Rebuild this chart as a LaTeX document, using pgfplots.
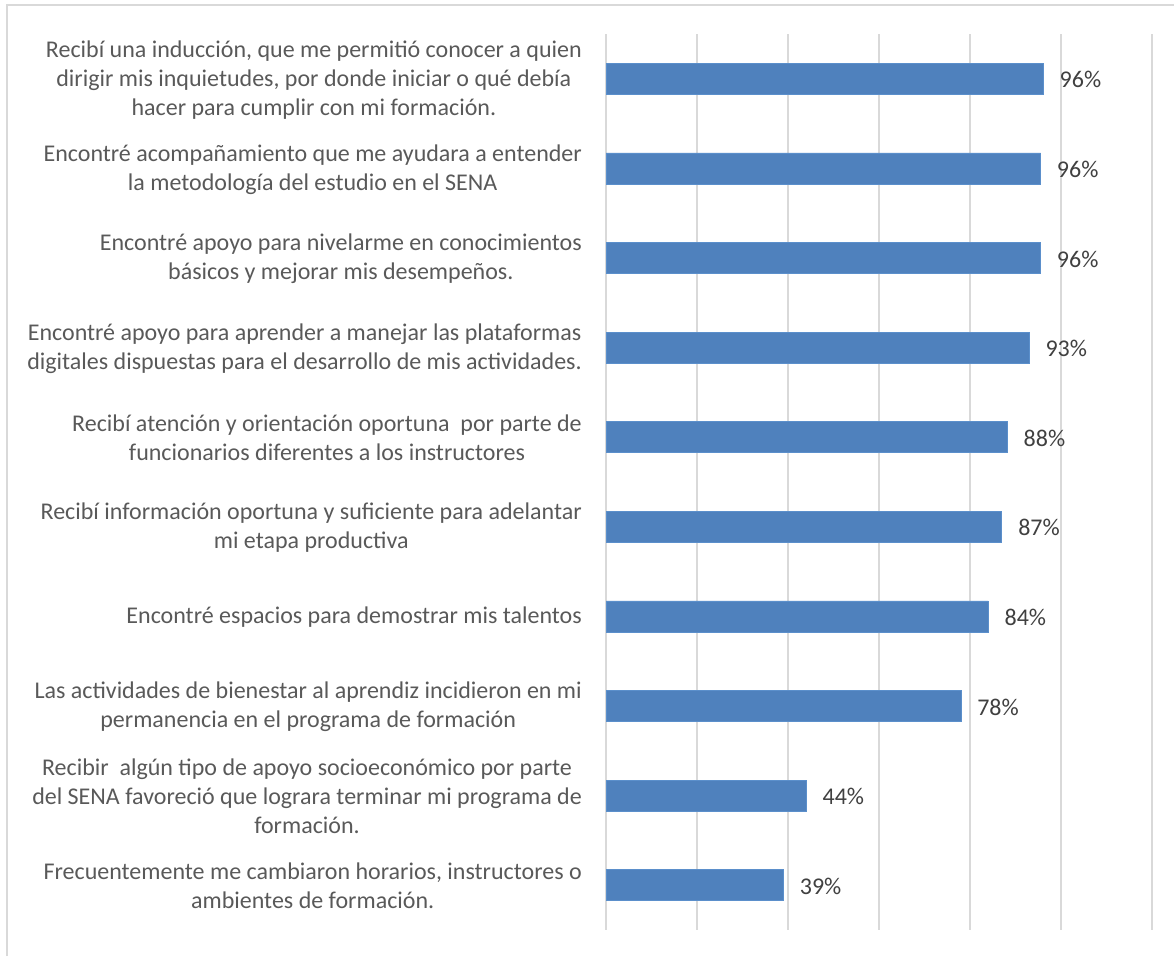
\documentclass[border=0pt]{standalone}
\usepackage{pgfplots}
\pgfplotsset{compat=1.18}
\usepackage{pgfplotstable}
\usepackage{fontspec}
\setmainfont{Carlito}
\definecolor{barblue}{HTML}{4F81BD}
\definecolor{baredge}{HTML}{5B8FCB}
\definecolor{labgray}{HTML}{595959}
\definecolor{valgray}{HTML}{404040}
\definecolor{gridgray}{HTML}{D9D9D9}
\pgfplotstableread{
y val lab
0 96.1 96\%
1 95.5 96\%
2 95.5 96\%
3 93.0 93\%
4 88.2 88\%
5 87.0 87\%
6 84.0 84\%
7 78.0 78\%
8 44.0 44\%
9 39.0 39\%
}\datatab
\begin{document}
\begin{tikzpicture}
\useasboundingbox (0,0) rectangle (1174pt,956pt);
\draw[gridgray, line width=1.6pt] (7pt,0pt) -- (7pt,951pt) -- (1174pt,951pt);
\begin{axis}[
  at={(606pt,26pt)}, anchor=south west,
  scale only axis, width=546pt, height=896pt,
  xbar, bar width=31pt,
  xmin=0, xmax=120,
  ymin=-0.5, ymax=9.5, y dir=reverse,
  axis line style={draw=none},
  xtick={0,20,40,60,80,100,120}, xticklabels={},
  xmajorgrids, grid style={gridgray, line width=1.3pt},
  major tick length=0pt,
  ytick={0,...,9},
  yticklabels={
    {Recibí una inducción, que me permitió conocer a quien\\dirigir mis inquietudes, por donde iniciar o qué debía\\hacer para cumplir con mi formación.},
    {Encontré acompañamiento que me ayudara a entender\\la metodología del estudio en el SENA},
    {Encontré apoyo para nivelarme en conocimientos\\básicos y mejorar mis desempeños.},
    {Encontré apoyo para aprender a manejar las plataformas\\digitales dispuestas para el desarrollo de mis actividades.},
    {Recibí atención y orientación oportuna \ por parte de\\funcionarios diferentes a los instructores},
    {Recibí información oportuna y suficiente para adelantar\\mi etapa productiva},
    {Encontré espacios para demostrar mis talentos},
    {Las actividades de bienestar al aprendiz incidieron en mi\\permanencia en el programa de formación},
    {Recibir \ algún tipo de apoyo socioeconómico por parte\\del SENA favoreció que lograra terminar mi programa de\\formación.},
    {Frecuentemente me cambiaron horarios, instructores o\\ambientes de formación.}
  },
  yticklabel style={align=center, anchor=east, text=labgray,
    font=\fontsize{24}{29}\selectfont, inner sep=0pt, xshift=-24pt, yshift=-1pt},
  nodes near coords, point meta=explicit symbolic,
  every node near coord/.append style={anchor=west, text=valgray,
    font=\fontsize{24}{29}\selectfont, inner sep=0pt, xshift=16pt, yshift=-1pt},
  clip=false,
]
\addplot[fill=barblue, draw=baredge, line width=0.8pt] table[x=val, y=y, meta=lab] {\datatab};
\end{axis}
\end{tikzpicture}
\end{document}
